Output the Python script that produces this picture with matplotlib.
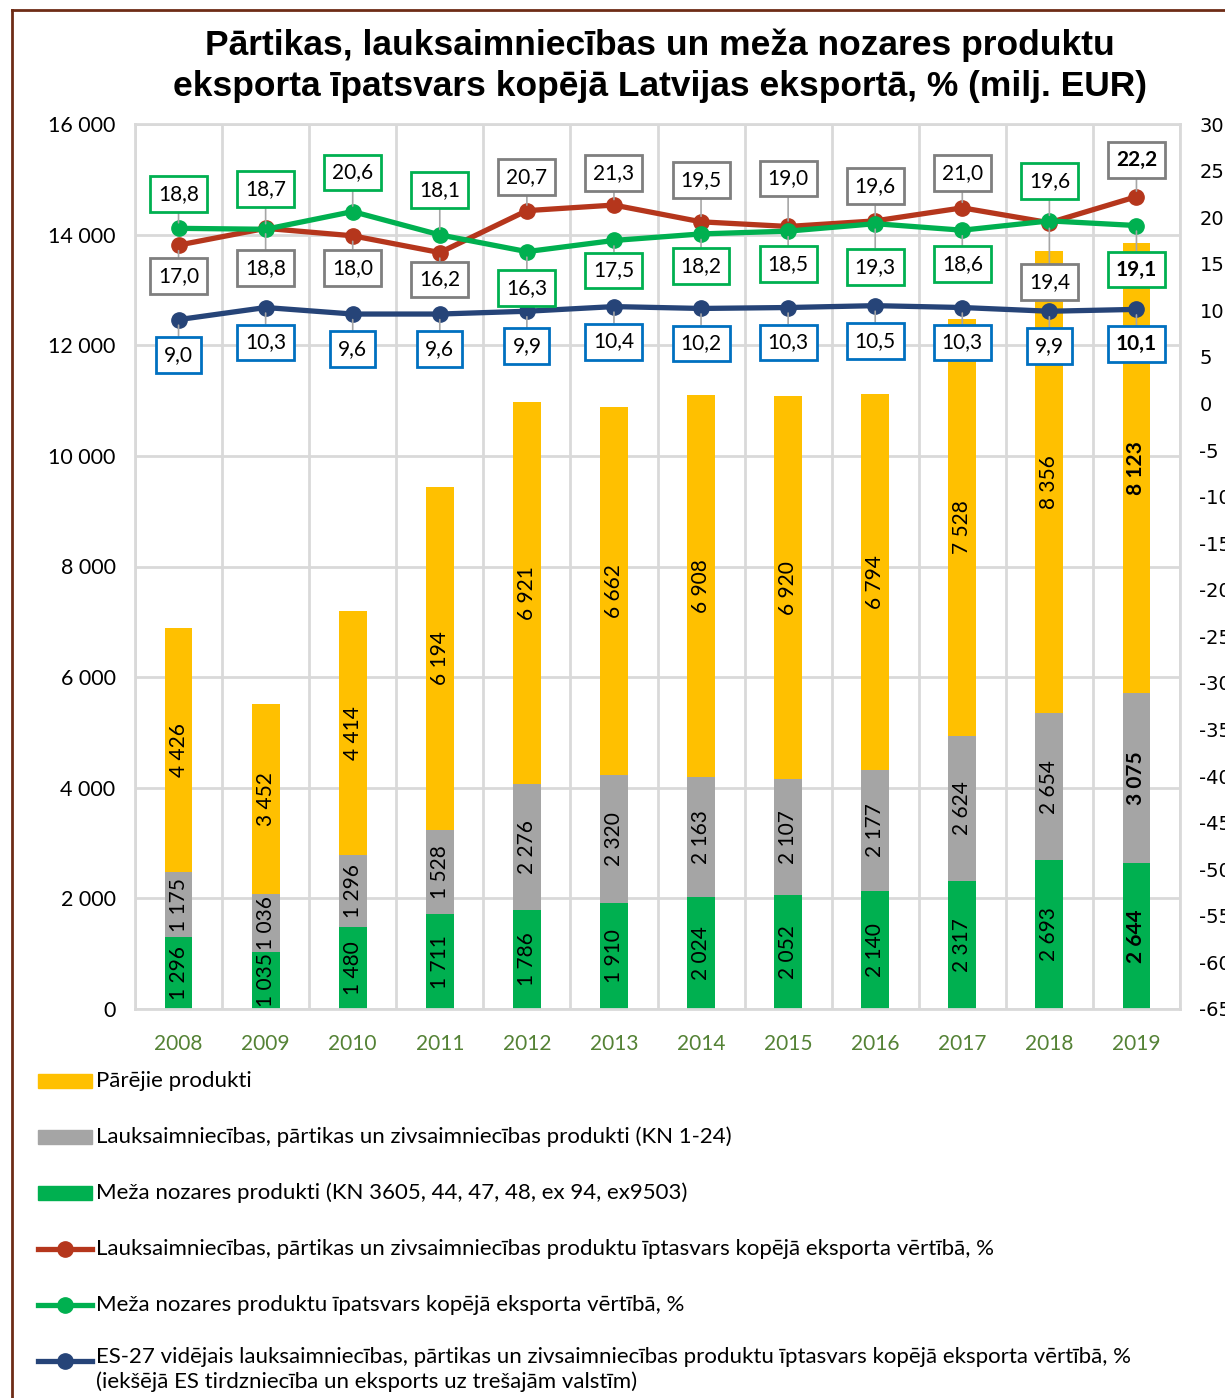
import matplotlib
matplotlib.use('Agg')
import matplotlib.pyplot as plt
from matplotlib.lines import Line2D
from matplotlib.patches import Rectangle
import numpy as np

years = ['2008', '2009', '2010', '2011', '2012', '2013', '2014', '2015', '2016', '2017', '2018', '2019']

# milj. EUR
forest = [1296, 1035, 1480, 1711, 1786, 1910, 2024, 2052, 2140, 2317, 2693, 2644]
agri = [1175, 1036, 1296, 1528, 2276, 2320, 2163, 2107, 2177, 2624, 2654, 3075]
other = [4426, 3452, 4414, 6194, 6921, 6662, 6908, 6920, 6794, 7528, 8356, 8123]

# %
agri_share = [17.0, 18.8, 18.0, 16.2, 20.7, 21.3, 19.5, 19.0, 19.6, 21.0, 19.4, 22.2]
forest_share = [18.8, 18.7, 20.6, 18.1, 16.3, 17.5, 18.2, 18.5, 19.3, 18.6, 19.6, 19.1]
eu_share = [9.0, 10.3, 9.6, 9.6, 9.9, 10.4, 10.2, 10.3, 10.5, 10.3, 9.9, 10.1]

title = 'Pārtikas, lauksaimniecības un meža nozares produktu\neksporta īpatsvars kopējā Latvijas eksportā, % (milj. EUR)'
legend_labels = [
    'Pārējie produkti',
    'Lauksaimniecības, pārtikas un zivsaimniecības produkti (KN 1-24)',
    'Meža nozares produkti (KN 3605, 44, 47, 48, ex 94, ex9503)',
    'Lauksaimniecības, pārtikas un zivsaimniecības produktu īptasvars kopējā eksporta vērtībā, %',
    'Meža nozares produktu īpatsvars kopējā eksporta vērtībā, %',
    'ES-27 vidējais lauksaimniecības, pārtikas un zivsaimniecības produktu īptasvars kopējā eksporta vērtībā, %\n(iekšējā ES tirdzniecība un eksports uz trešajām valstīm)',
]

c_yellow = '#FFC000'
c_grey = '#A5A5A5'
c_green = '#00B050'
c_red = '#B5361C'
c_navy = '#264478'
grid_c = '#D9D9D9'

plt.rcParams['font.family'] = ['Lato', 'DejaVu Sans']

def fmt(v):
    return '{:,}'.format(v).replace(',', ' ')

def fmt_pct(v):
    return '{:.1f}'.format(v).replace('.', ',')

fig = plt.figure(figsize=(12.25, 13.98), dpi=100)
ax = fig.add_axes([135 / 1225, 1 - 1009 / 1398, 1045 / 1225, 885 / 1398])

x = np.arange(len(years))
w = 0.32
f = np.array(forest)
a = np.array(agri)
o = np.array(other)
ax.bar(x, f, w, color=c_green, zorder=2)
ax.bar(x, a, w, bottom=f, color=c_grey, zorder=2)
ax.bar(x, o, w, bottom=f + a, color=c_yellow, zorder=2)

last = len(years) - 1
for i in x:
    wt = 'bold' if i == last else 'normal'
    for bot, val in [(0, f[i]), (f[i], a[i]), (f[i] + a[i], o[i])]:
        ax.text(i, bot + val / 2, fmt(int(val)), rotation=90, ha='center', va='center',
                fontsize=15, fontweight=wt, color='black', zorder=3)

ax.set_xlim(-0.5, len(years) - 0.5)
ax.set_ylim(0, 16000)
ax.set_yticks(range(0, 16001, 2000))
ax.set_yticklabels([fmt(v) for v in range(0, 16001, 2000)], fontsize=15.5)
ax.set_xticks(x)
ax.set_xticklabels(years, fontsize=15, color='#548235')
ax.set_xticks(np.arange(-0.5, len(years), 1), minor=True)
ax.tick_params(axis='both', which='both', length=0)
ax.tick_params(axis='y', pad=14)
ax.tick_params(axis='x', pad=18)
ax.grid(axis='y', color=grid_c, lw=2, zorder=0)
ax.grid(axis='x', which='minor', color=grid_c, lw=2, zorder=0)
for s in ax.spines.values():
    s.set_color(grid_c)
    s.set_linewidth(2)

ax2 = ax.twinx()
ax2.set_ylim(-65, 30)
ax2.set_yticks(range(-65, 31, 5))
ax2.set_yticklabels([str(v) for v in range(-65, 31, 5)], fontsize=14, family='DejaVu Sans')
ax2.tick_params(axis='y', length=0, pad=14)
for s in ax2.spines.values():
    s.set_visible(False)

# label offsets in pixels (positive = above the point)
off_agri = [-31, -40, -32, -27, 34, 32, 42, 48, 35, 35, -59, 37]
off_forest = [34, 40, 39, 45, -36, -30, -32, -33, -43, -34, 40, -44]
off_eu = [-35] * len(years)

series = [
    (agri_share, c_red, '#7F7F7F', off_agri),
    (forest_share, c_green, c_green, off_forest),
    (eu_share, c_navy, '#0070C0', off_eu),
]
for vals, lc, bc, offs in series:
    ax2.plot(x, vals, color=lc, lw=3.8, marker='o', ms=11, zorder=4)
for vals, lc, bc, offs in series:
    for i, v in enumerate(vals):
        wt = 'bold' if i == last else 'normal'
        ax2.annotate(fmt_pct(v), xy=(i, v), xytext=(0, offs[i]), textcoords='offset pixels',
                     ha='center', va='center', fontsize=15, fontweight=wt,
                     bbox=dict(boxstyle='square,pad=0.38', fc='white', ec=bc, lw=2),
                     arrowprops=dict(arrowstyle='-', color='#A6A6A6', lw=1.2,
                                     shrinkA=0, shrinkB=4),
                     zorder=5)

fig.text(660 / 1225, 1 - 66 / 1398, title, ha='center', va='center', fontsize=25.5,
         fontweight='bold', linespacing=1.3,
         family=['Liberation Sans', 'DejaVu Sans'])

# legend drawn by hand
H = 1398.0
W = 1225.0
ys = [1081, 1137, 1193, 1249, 1305, 1361]
patch_cols = [c_yellow, c_grey, c_green]
line_cols = [c_red, c_green, c_navy]
for k, lab in enumerate(legend_labels):
    yc = 1 - ys[k] / H
    if k < 3:
        fig.add_artist(Rectangle((38 / W, yc - 7 / H), 54 / W, 14 / H,
                                 transform=fig.transFigure, color=patch_cols[k]))
    else:
        fig.add_artist(Line2D([38 / W, 92 / W], [yc, yc], transform=fig.transFigure,
                              color=line_cols[k - 3], lw=3.8))
        fig.add_artist(Line2D([65 / W], [yc], transform=fig.transFigure,
                              color=line_cols[k - 3], marker='o', ms=11, lw=0))
    if '\n' in lab:
        fig.text(96 / W, yc + 14 / H, lab, ha='left', va='top', fontsize=16, linespacing=1.25)
    else:
        fig.text(96 / W, yc, lab, ha='left', va='center', fontsize=16)

# outer border
bc = '#6E2C16'
fig.add_artist(Line2D([12 / W, 1], [1 - 10 / H, 1 - 10 / H], transform=fig.transFigure, color=bc, lw=2))
fig.add_artist(Line2D([12 / W, 12 / W], [0, 1 - 10 / H], transform=fig.transFigure, color=bc, lw=2))

fig.savefig('out.png', dpi=100)
